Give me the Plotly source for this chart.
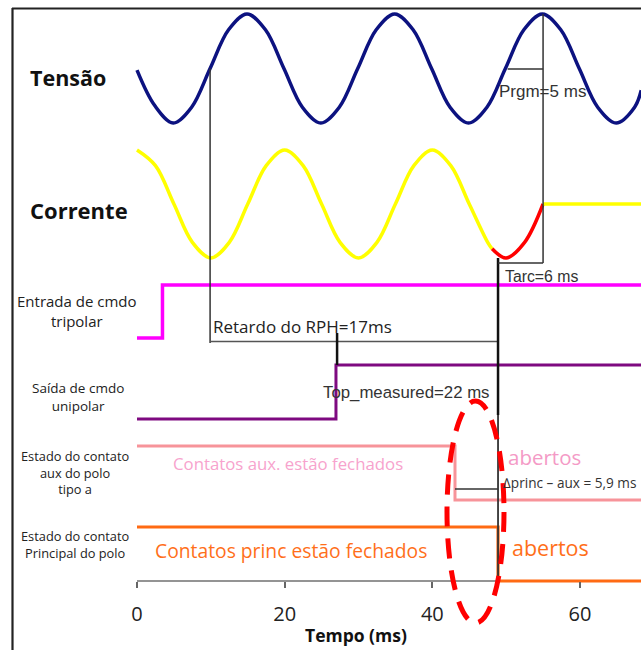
import plotly.graph_objects as go

# ---------------- data ----------------
# time axis in ms
t_volt = [0, 2.4, 4.9, 7.4, 9.9, 12.4, 14.9, 17.4, 19.9, 22.4, 24.9, 27.4, 29.9,
          32.4, 34.9, 37.4, 39.9, 42.4, 44.9, 47.4, 49.9, 52.4, 54.9, 57.4, 59.9,
          62.4, 64.9, 67.4, 68.3]
v_volt = [-0.03, -0.68, -1, -0.71, 0, 0.71, 1, 0.71, 0, -0.71, -1, -0.71, 0,
          0.71, 1, 0.71, 0, -0.71, -1, -0.71, 0, 0.71, 1, 0.71, 0,
          -0.71, -1, -0.71, -0.4]

t_curr = [0, 2.5, 5, 7.5, 10, 12.5, 15, 17.5, 20, 22.5, 25, 27.5, 30,
          32.5, 35, 37.5, 40, 42.5, 45, 47.5, 48.1]
v_curr = [1, 0.71, 0, -0.71, -1, -0.71, 0, 0.71, 1, 0.71, 0, -0.71, -1,
          -0.71, 0, 0.71, 1, 0.71, 0, -0.71, -0.83]

t_arc = [48.1, 50, 52.5, 55.0]          # arc current (red)
v_arc = [-0.83, -1, -0.71, 0]

t_after = [55.0, 68.3]                  # current interrupted
v_after = [0, 0]

# step signals: time of change and state (1 = high, 0 = low)
t_trip_in = [0, 3.45, 68.3];  s_trip_in = [0, 1, 1]
t_trip_out = [0, 26.95, 68.3]; s_trip_out = [0, 1, 1]
t_aux = [0, 43.07, 68.3];     s_aux = [1, 0, 0]
t_main = [0, 48.9, 68.3];     s_main = [1, 0, 0]

# markers of measured times (ms)
t_rph_start = 9.9
t_open = 48.9
t_zero = 55.0
t_prgm_start = 50.2
t_unipolar = 27.1
t_aux_open = 43.07

tick_vals = [0, 20, 40, 60]
tick_text = ["0", "20", "40", "60"]

# ---------------- layout constants (pixel rows) ----------------
W, H = 641, 650
px_per_ms = 7.383
x0_px = 137
xr = [-x0_px / px_per_ms, (W - x0_px) / px_per_ms]

def px2t(px):
    return (px - x0_px) / px_per_ms

rows = {
    "volt": (68.5, 54.5),   # centre, amplitude (y down)
    "curr": (204, 54),
}
steps = {
    "trip_in": (338, 285),   # low, high
    "trip_out": (419, 365),
    "aux": (500, 446),
    "main": (581, 527),
}

def wave(vals, key):
    c, a = rows[key]
    return [c - a * v for v in vals]

def step(vals, key):
    lo, hi = steps[key]
    return [hi if s else lo for s in vals]

fig = go.Figure()

fig.add_trace(go.Scatter(x=t_volt, y=wave(v_volt, "volt"), mode="lines",
                         line=dict(color="#0c1280", width=3.5, shape="spline", smoothing=1.0)))
fig.add_trace(go.Scatter(x=t_curr, y=wave(v_curr, "curr"), mode="lines",
                         line=dict(color="#ffff00", width=3.5, shape="spline", smoothing=1.0)))
fig.add_trace(go.Scatter(x=t_arc, y=wave(v_arc, "curr"), mode="lines",
                         line=dict(color="#ff0000", width=3.5, shape="spline", smoothing=1.0)))
fig.add_trace(go.Scatter(x=t_after, y=wave(v_after, "curr"), mode="lines",
                         line=dict(color="#ffff00", width=3.5)))

fig.add_trace(go.Scatter(x=t_trip_in, y=step(s_trip_in, "trip_in"), mode="lines",
                         line=dict(color="#ff00ff", width=3.5, shape="hv")))
fig.add_trace(go.Scatter(x=t_trip_out, y=step(s_trip_out, "trip_out"), mode="lines",
                         line=dict(color="#7e0a80", width=3, shape="hv")))
fig.add_trace(go.Scatter(x=t_aux, y=step(s_aux, "aux"), mode="lines",
                         line=dict(color="#f7949a", width=3, shape="hv")))
fig.add_trace(go.Scatter(x=t_main, y=step(s_main, "main"), mode="lines",
                         line=dict(color="#ff6a13", width=3.2, shape="hv")))

shapes = []
def seg(xa, ya, xb, yb, color="#333333", width=1.5, dash=None, xref="x", layer="above"):
    d = dict(type="line", x0=xa, y0=ya, x1=xb, y1=yb, xref=xref, yref="y",
             layer=layer, line=dict(color=color, width=width))
    if dash:
        d["line"]["dash"] = dash
    shapes.append(d)

# axis baseline (below the traces so the orange level stays visible)
seg(0, 581, xr[1], 581, color="#707070", width=1.5, layer="below")
# Retardo do RPH
seg(t_rph_start, 68.5, t_rph_start, 343)
seg(t_rph_start, 341.5, t_open, 341.5, color="#555555")
# opening instant
seg(t_open, 258, t_open, 415, color="#111111", width=2.5)
seg(t_open, 415, t_open, 580, color="#333333", width=1.8)
# Prgm / Tarc
seg(t_zero, 14, t_zero, 263)
seg(t_open, 263, t_zero, 263)
seg(t_prgm_start, 69, t_zero, 69)
# unipolar
seg(t_unipolar, 333, t_unipolar, 365, color="#111111", width=2.5)
# delta princ-aux
seg(t_aux_open, 489, t_open, 489)
# frame
seg(12.5 / W, 8, 12.5 / W, 650, color="#222222", width=2.2, xref="paper")
seg(12 / W, 8.5, 1, 8.5, color="#222222", width=2.2, xref="paper")
# red dashed ellipse
shapes.append(dict(type="circle", xref="x", yref="y",
                   x0=px2t(447), x1=px2t(504), y0=401, y1=623,
                   line=dict(color="#ff0000", width=5, dash="20px,12px")))

FONT = "Open Sans"
ARIAL = "Liberation Sans"
ann = []
def txt(x, y, text, size, color="#222222", family=FONT, xanchor="left", xref="x", bold=False, align="left"):
    if bold:
        text = "<b>" + text + "</b>"
    ann.append(dict(x=x, y=y, xref=xref, yref="y", text=text, showarrow=False,
                    xanchor=xanchor, yanchor="middle", align=align,
                    font=dict(size=size, color=color, family=family)))

txt(28 / W, 77, "Tensão", 21.5, color="#111111", xref="paper", bold=True)
txt(28 / W, 210, "Corrente", 22, color="#111111", xref="paper", bold=True)
txt(77 / W, 311, "Entrada de cmdo<br>tripolar", 15, xanchor="center", xref="paper", align="center")
txt(78 / W, 397, "Saída de cmdo<br>unipolar", 13.5, xanchor="center", xref="paper", align="center")
txt(75 / W, 472, "Estado do contato<br>aux do polo<br>tipo a", 12.8, xanchor="center", xref="paper", align="center")
txt(75 / W, 544, "Estado do contato<br>Principal do polo", 12.8, xanchor="center", xref="paper", align="center")

txt(px2t(211), 326, "Retardo do RPH=17ms", 17)
txt(px2t(321), 392, "Top_measured=22 ms", 16.8, color="#333333", family=ARIAL)
txt(px2t(497), 91, "Prgm=5 ms", 17, color="#333333", family=ARIAL)
txt(px2t(503), 276, "Tarc=6 ms", 15.8, color="#333333", family=ARIAL)
txt(px2t(171), 463, "Contatos aux. estão fechados", 16.8, color="#f7a3cd")
txt(px2t(153), 550, "Contatos princ estão fechados", 19.3, color="#ff6f1a")
txt(px2t(506), 457, "abertos", 20.5, color="#f49ac6")
txt(px2t(510), 547, "abertos", 21.5, color="#ff6f1a")
txt(px2t(501), 482, "∆princ – aux = 5,9 ms", 13.6, color="#333333")
txt(px2t(356), 635, "Tempo (ms)", 17.5, color="#111111", xanchor="center", bold=True)

fig.update_layout(
    width=W, height=H,
    margin=dict(l=0, r=0, t=0, b=0),
    paper_bgcolor="white", plot_bgcolor="white",
    showlegend=False,
    shapes=shapes, annotations=ann,
    xaxis=dict(range=xr, showgrid=False, zeroline=False, showline=False,
               tickvals=tick_vals, ticktext=tick_text, ticks="outside", ticklen=6,
               tickwidth=1.5, tickcolor="#666666", anchor="free", position=69 / H,
               ticklabelstandoff=9,
               tickfont=dict(size=20, color="#222222", family=FONT)),
    yaxis=dict(range=[H, 0], visible=False, showgrid=False, zeroline=False),
)

fig.write_html("out.html")
